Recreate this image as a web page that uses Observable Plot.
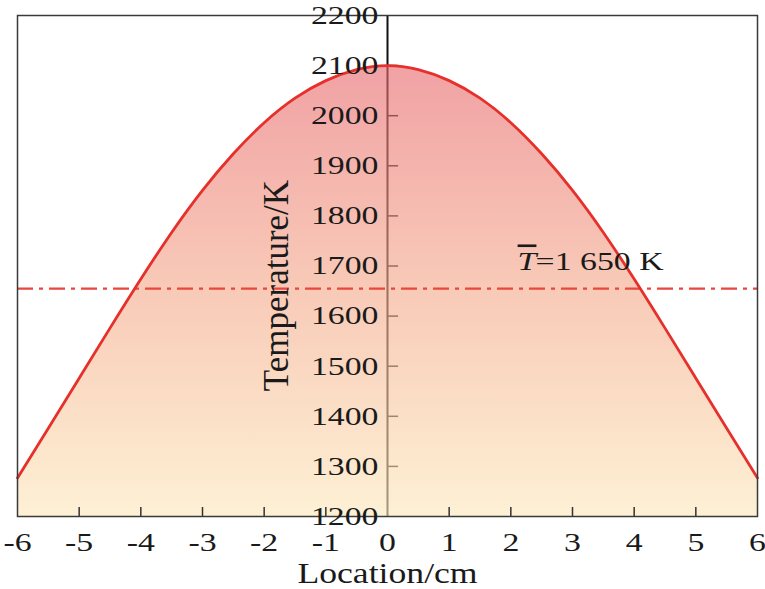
<!DOCTYPE html>
<html>
<head>
<meta charset="utf-8">
<script src="https://cdn.jsdelivr.net/npm/d3@7"></script>
<script src="https://cdn.jsdelivr.net/npm/@observablehq/plot@0.6"></script>
<style>
  body { margin: 0; background: #fff; }
  #chart svg { display: block; }
</style>
</head>
<body>
<div id="chart"></div>
<script>
// ---- data ----
const locationCm = [-6, -5.5, -5, -4.5, -4, -3.5, -3, -2.5, -2, -1.5, -1, -0.5, 0,
                    0.5, 1, 1.5, 2, 2.5, 3, 3.5, 4, 4.5, 5, 5.5, 6];
const temperatureK = [1277, 1376, 1476, 1576, 1674, 1767, 1851, 1924, 1986, 2035, 2070, 2092, 2100,
                      2092, 2070, 2035, 1986, 1924, 1851, 1767, 1674, 1576, 1476, 1376, 1277];
const xTicks = [-6, -5, -4, -3, -2, -1, 0, 1, 2, 3, 4, 5, 6];
const yTicks = [1200, 1300, 1400, 1500, 1600, 1700, 1800, 1900, 2000, 2100, 2200];
const meanTemperature = 1655;
const meanSymbol = "T";
const meanText = "=1 650 K";
const xLabel = "Location/cm";
const yLabel = "Temperature/K";

const data = locationCm.map((x, i) => ({x, t: temperatureK[i]}));

const plot = Plot.plot({
  width: 765,
  height: 589,
  marginLeft: 17,
  marginRight: 8,
  marginTop: 15,
  marginBottom: 73,
  style: {fontFamily: "'Liberation Serif', 'Times New Roman', serif", background: "#fff", overflow: "visible"},
  x: {domain: [-6, 6], axis: null},
  y: {domain: [1200, 2200], axis: null},
  marks: [
    Plot.ruleX([0], {stroke: "#111", strokeWidth: 2}),
    Plot.ruleY(yTicks.slice(1, -1), {x1: 0, x2: 0.18, stroke: "#111", strokeWidth: 1.5}),
    Plot.areaY(data, {x: "x", y1: 1200, y2: "t", fill: "url(#tgrad)", curve: "natural"}),
    Plot.ruleY([meanTemperature], {stroke: "#e8463e", strokeWidth: 2.3, strokeDasharray: "16,6,4,6"}),
    Plot.line(data, {x: "x", y: "t", stroke: "#e6302b", strokeWidth: 2.8, curve: "natural"}),
    Plot.ruleX(xTicks.filter(d => d !== 0 && Math.abs(d) !== 6), {y1: 1200, y2: 1218, stroke: "#333", strokeWidth: 1.5}),
    Plot.frame({stroke: "#3a3a3a", strokeWidth: 1.5}),
    Plot.text(yTicks, {x: 0, y: d => d, text: d => String(d), textAnchor: "end", dx: -9, fontSize: 26, fill: "#1a1a1a"}),
    Plot.text(xTicks, {x: d => d, y: 1200, text: d => String(d), dy: 26, fontSize: 26, fill: "#1a1a1a"}),
    Plot.text([xLabel], {x: 0, y: 1200, text: d => d, dy: 57, fontSize: 29, fill: "#1a1a1a"}),
    Plot.text([yLabel], {x: -1.79, y: 1661, text: d => d, rotate: -90, fontSize: 35, fill: "#1a1a1a"}),
    Plot.text([meanSymbol], {x: 2.11, y: 1708, text: d => d, textAnchor: "start", fontStyle: "italic", fontSize: 26, fill: "#1a1a1a"}),
    Plot.text([meanText], {x: 2.11, y: 1708, text: d => d, textAnchor: "start", dx: 18, fontSize: 26, fill: "#1a1a1a"})
  ]
});

// gradient for the area (semi-transparent so the axis shows through)
const svgSel = d3.select(plot);
const defs = svgSel.insert("defs", ":first-child");
const grad = defs.append("linearGradient").attr("id", "tgrad")
  .attr("x1", 0).attr("y1", 0).attr("x2", 0).attr("y2", 1);
grad.append("stop").attr("offset", 0).attr("stop-color", "rgb(232,104,108)").attr("stop-opacity", 0.62);
grad.append("stop").attr("offset", 0.5).attr("stop-color", "rgb(244,170,140)").attr("stop-opacity", 0.62);
grad.append("stop").attr("offset", 1).attr("stop-color", "rgb(252,232,186)").attr("stop-opacity", 0.62);

// horizontal stretch of labels (the reference type is wide)
function stretch(sel, k) {
  sel.each(function() {
    const t = this.getAttribute("transform");
    if (t) this.setAttribute("transform", t + ` scale(${k},1)`);
    else {
      const x = +this.getAttribute("x") || 0, y = +this.getAttribute("y") || 0;
      this.removeAttribute("x"); this.removeAttribute("y");
      this.setAttribute("transform", `translate(${x},${y}) scale(${k},1)`);
    }
  });
}
stretch(svgSel.selectAll("g[font-size='26'] text"), 1.3);
stretch(svgSel.selectAll("g[font-size='29'] text"), 1.23);
svgSel.selectAll("g[font-style='italic'] text").style("text-decoration", "overline");

document.getElementById("chart").append(plot);
</script>
</body>
</html>
